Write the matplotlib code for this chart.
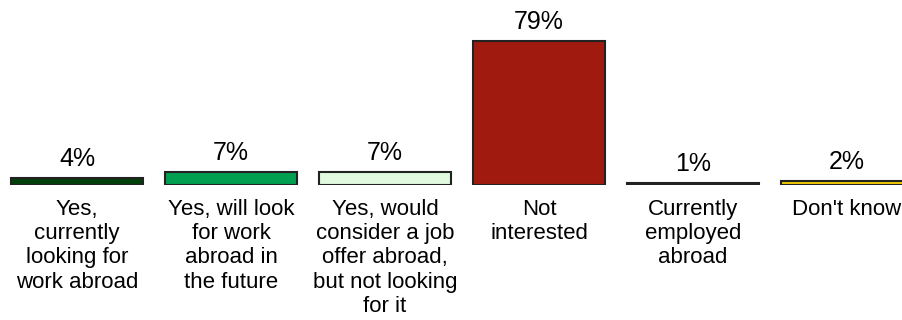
import numpy as np
import matplotlib.pyplot as plt

plt.rcParams['font.family'] = ['Liberation Sans', 'DejaVu Sans']

# answers and shares
categories = [
    "Yes,\ncurrently\nlooking for\nwork abroad",
    "Yes, will look\nfor work\nabroad in\nthe future",
    "Yes, would\nconsider a job\noffer abroad,\nbut not looking\nfor it",
    "Not\ninterested",
    "Currently\nemployed\nabroad",
    "Don't know",
]
values = [4, 7, 7, 79, 1, 2]
colors = ['#00400a', '#00a050', '#e0fae0', '#a01a10', '#303030', '#f0c800']

fig = plt.figure(figsize=(9.03, 3.2), dpi=100)
ax = fig.add_axes([0, 0.4219, 1, 0.5781])

x = np.arange(len(values))
bars = ax.bar(x, values, width=0.857, color=colors, edgecolor='#222222', linewidth=1.5)

ax.set_xlim(-0.5, 5.364)
ax.set_ylim(0, 101.5)
ax.axis('off')

for xi, v in zip(x, values):
    ax.annotate(f"{v}%", (xi, v), xytext=(0, 7), textcoords='offset pixels',
                ha='center', va='bottom', fontsize=18, color='#000000')

for xi, lab in zip(x, categories):
    ax.annotate(lab, (xi, 0), xytext=(0, -14), textcoords='offset pixels',
                ha='center', va='top', fontsize=16, linespacing=1.2,
                color='#000000', annotation_clip=False)

plt.savefig('out.png', dpi=100)
